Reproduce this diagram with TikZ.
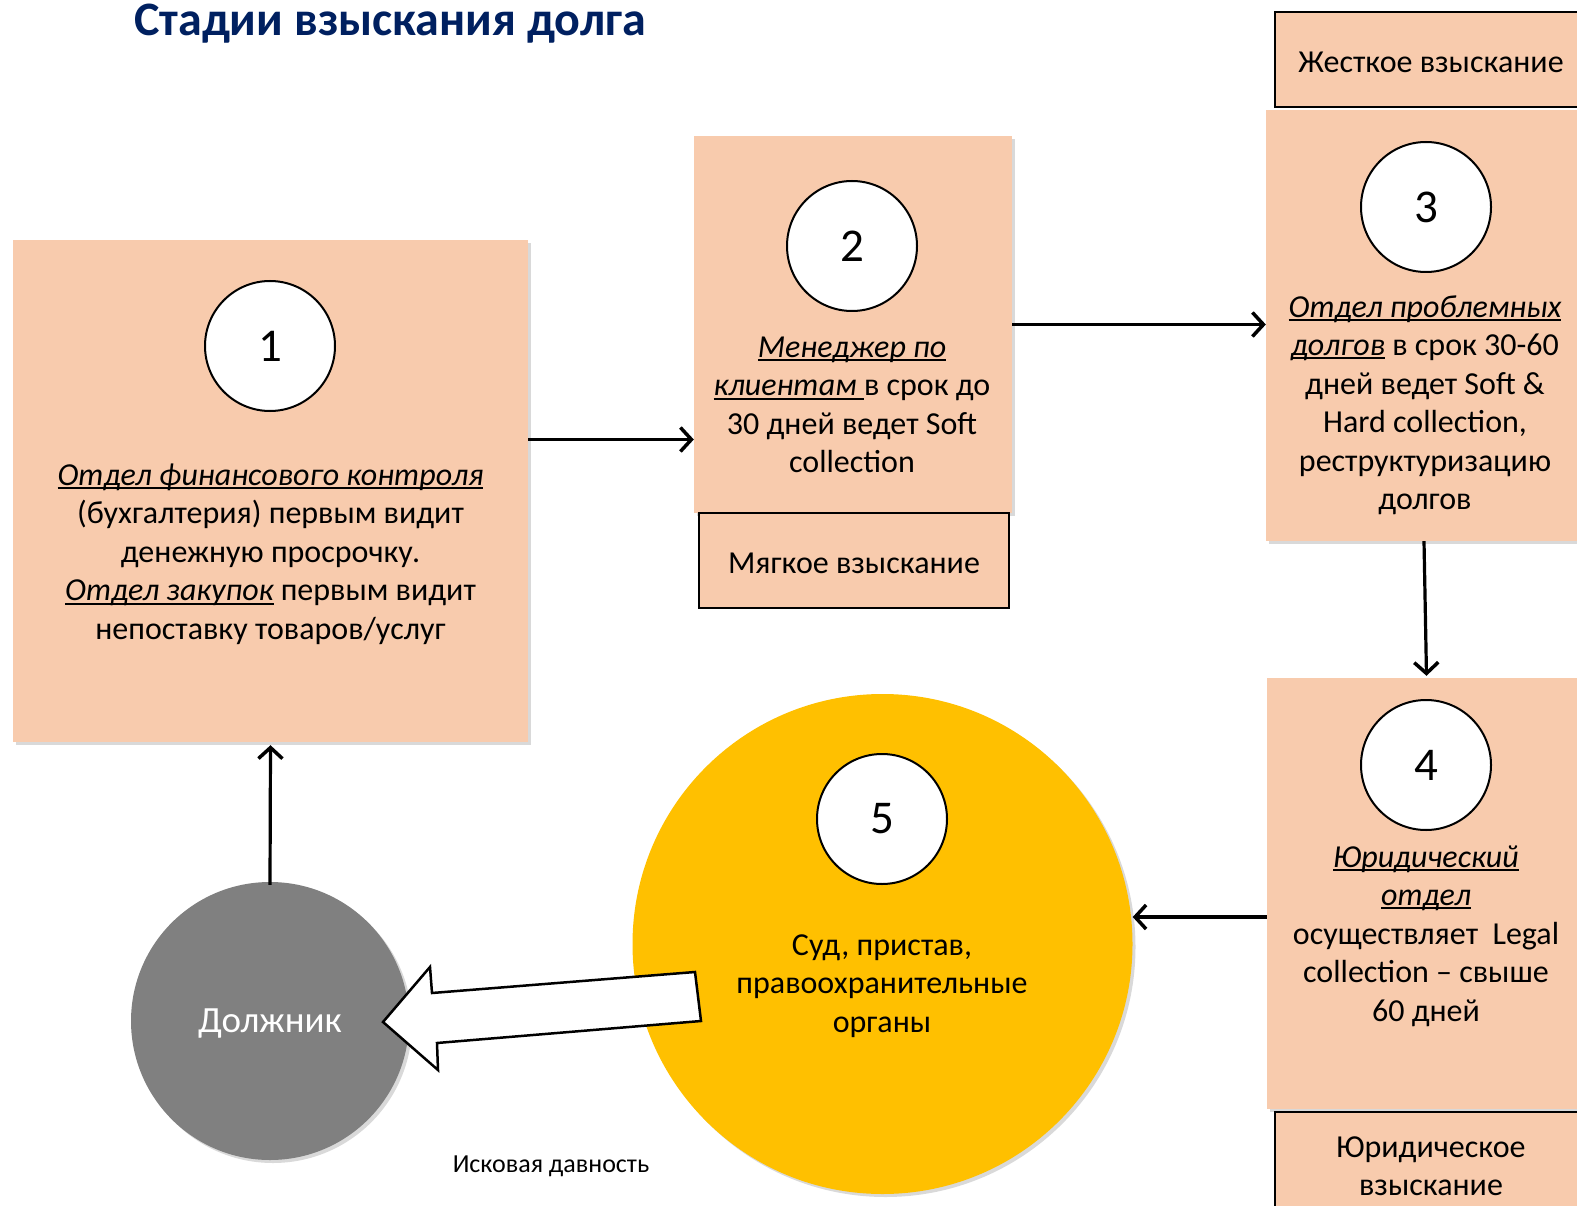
\documentclass[tikz,border=0pt]{standalone}
\usepackage{fontspec}
\setmainfont{Carlito}
\usetikzlibrary{shadows,arrows.meta}
\definecolor{peach}{HTML}{F8CBAD}
\definecolor{gold}{HTML}{FFC000}
\definecolor{navy}{HTML}{002060}
\definecolor{greyc}{HTML}{808080}
\newsavebox\uibox
\newcommand\ui[1]{\sbox\uibox{\itshape #1}\rlap{\rule[-3.8pt]{\wd\uibox}{2pt}}\usebox\uibox}
\tikzset{
 bigbox/.style={fill=peach, draw=none, inner sep=0pt,
   drop shadow={shadow xshift=3pt,shadow yshift=-3pt,opacity=.3}},
 tagbox/.style={fill=peach, draw=black, line width=2.5pt, inner sep=0pt},
 numc/.style={circle, fill=white, draw=black, line width=2pt, minimum size=130pt, inner sep=0pt, font=\fontsize{47}{50}\selectfont},
 txt/.style={align=center, font=\fontsize{32}{38.5}\selectfont, inner sep=0pt},
 arr/.style={-{Straight Barb[length=11pt,width=24pt,line width=3.5pt]}, line width=3.2pt},
}
\begin{document}
\begin{tikzpicture}[x=1pt,y=-1pt]
\useasboundingbox (0,0) rectangle (1577,1206);
% title
\node[font=\fontsize{48}{52}\selectfont\bfseries, text=navy, anchor=west, inner sep=0pt] (title) at (134,24) {Стадии взыскания долга};
% big boxes
\node[bigbox, minimum width=515pt, minimum height=502pt] (b1) at (270.5,491) {};
\node[bigbox, minimum width=318pt, minimum height=377pt] (b2) at (853,324.5) {};
\node[bigbox, minimum width=324pt, minimum height=431pt] (b3) at (1428,325.5) {};
\node[bigbox, minimum width=323pt, minimum height=431pt] (b4) at (1428.5,893.5) {};
% tag boxes
\node[tagbox, minimum width=310pt, minimum height=95pt] (soft) at (854,560.5) {};
\node[txt] (softt) at (854,563) {Мягкое взыскание};
\node[tagbox, minimum width=313pt, minimum height=95pt] (hard) at (1431.5,59.5) {};
\node[txt] (hardt) at (1431,62) {Жесткое взыскание};
\node[tagbox, minimum width=313pt, minimum height=103pt] (legal) at (1431.5,1163.5) {};
\node[txt] (legalt) at (1431,1166) {Юридическое\\взыскание};
% circles
\node[circle, fill=gold, minimum size=500pt, inner sep=0pt,
   drop shadow={shadow xshift=3pt,shadow yshift=-3pt,opacity=.3}] (yc) at (882.5,944) {};
\node[circle, fill=greyc, minimum size=278pt, inner sep=0pt,
   drop shadow={shadow xshift=3pt,shadow yshift=-3pt,opacity=.3}] (gc) at (270,1021) {};
\node[txt, font=\fontsize{37}{40}\selectfont, text=white] (gct) at (270,1024) {Должник};
% number circles
\node[numc] (n1) at (270,346) {1};
\node[numc] (n2) at (852,246) {2};
\node[numc] (n3) at (1426,207) {3};
\node[numc] (n4) at (1426,765) {4};
\node[numc] (n5) at (882,819) {5};
% texts
\node[txt] (t1) at (270.5,554) {\ui{Отдел финансового контроля}\\(бухгалтерия) первым видит\\денежную просрочку.\\\ui{Отдел закупок} первым видит\\непоставку товаров/услуг};
\node[txt] (t2) at (852,405) {\ui{Менеджер по}\\\ui{клиентам }в срок до\\30 дней ведет Soft\\collection};
\node[txt] (t3) at (1425,405) {\ui{Отдел проблемных}\\\ui{долгов} в срок 30-60\\дней ведет Soft \&\\Hard collection,\\реструктуризацию\\долгов};
\node[txt] (t4) at (1426,936) {\ui{Юридический}\\\ui{отдел}\\осуществляет\ \ Legal\\collection – свыше\\60 дней};
\node[txt] (t5) at (882,986) {Суд, пристав,\\правоохранительные\\органы};
\node[font=\fontsize{26}{30}\selectfont, inner sep=0pt] (isk) at (551,1166) {Исковая давность};
% connectors
\coordinate (a1) at ([yshift=51.5pt]b1.east);
\draw[arr] (a1) -- (a1 -| b2.west);
\draw[arr] (b2.east) -- ([yshift=1pt]b3.west);
\draw[arr] ([xshift=-4pt]b3.south) -- ([xshift=-2pt,yshift=2pt]b4.north);
\coordinate (a4) at ([yshift=-23.5pt]b4.west);
\draw[arr] (a4) -- (a4 -| yc.east);
\draw[arr] ([yshift=-3pt]gc.north) -- ([yshift=-3pt]b1.south);
% big white arrow
\draw[fill=white, line width=2.5pt, line join=miter] (383,1022) -- (430,967) -- (432,993) -- (695,972) -- (701,1021) -- (437,1043) -- (438,1070) -- cycle;
\end{tikzpicture}
\end{document}
